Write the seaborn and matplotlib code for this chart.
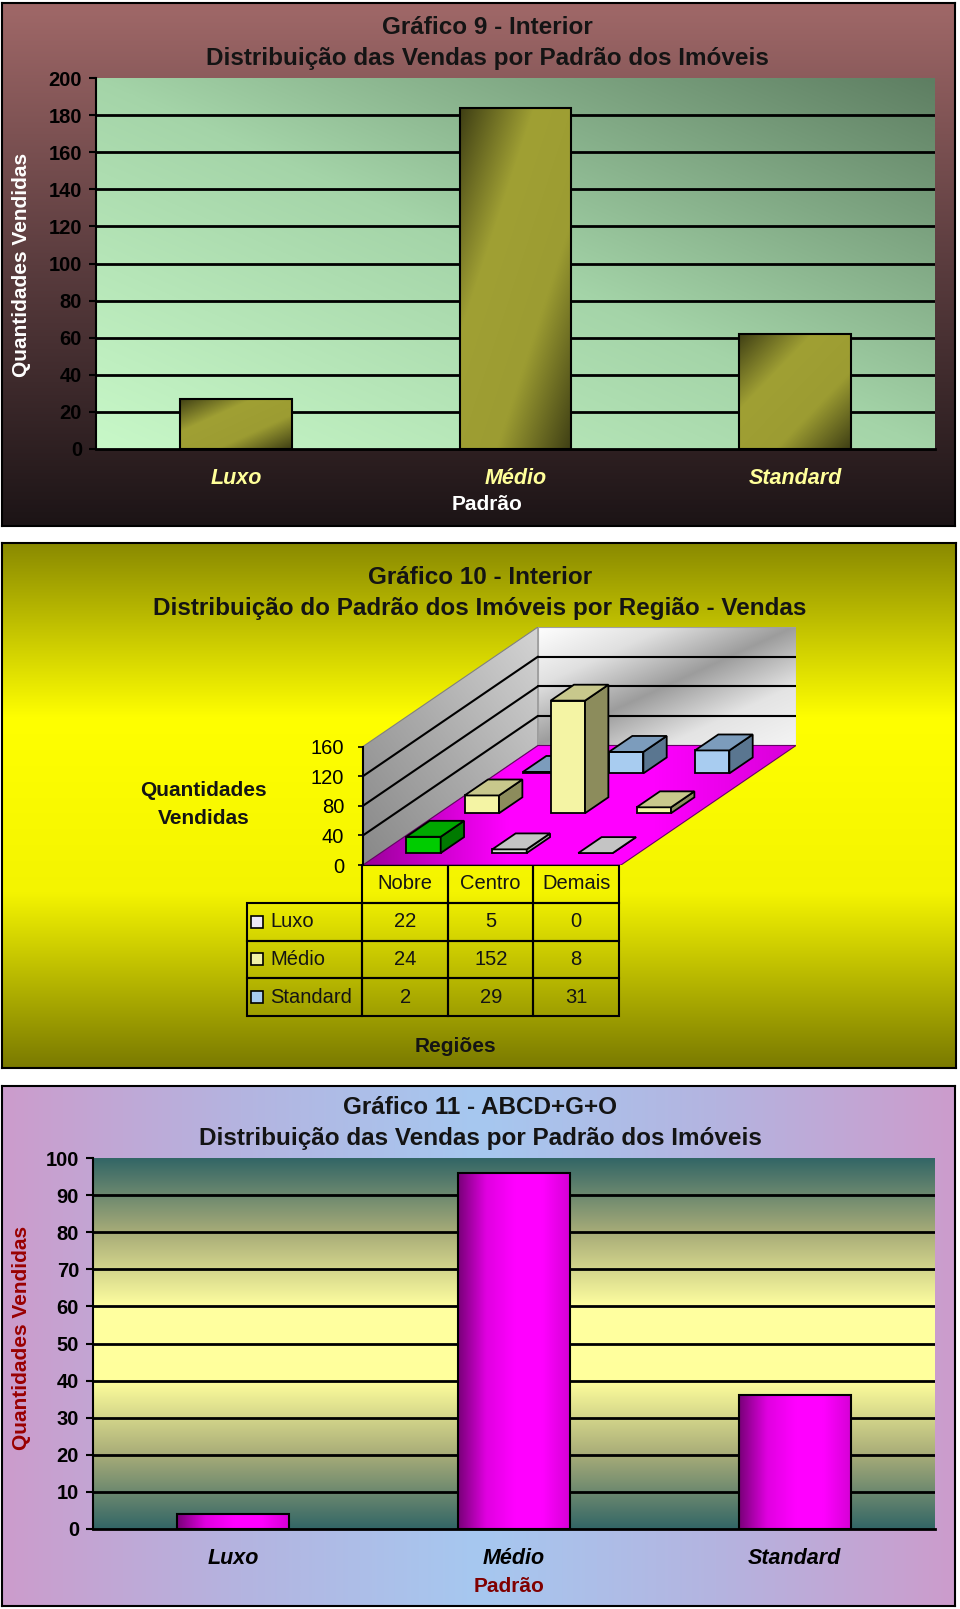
import numpy as np
import matplotlib
matplotlib.use("Agg")
import matplotlib.pyplot as plt
import seaborn as sns
from matplotlib.colors import LinearSegmentedColormap
from matplotlib.patches import Polygon, Rectangle
from matplotlib.table import Table

sns.set_theme(style="white")
plt.rcParams['font.family'] = ['Liberation Sans', 'DejaVu Sans']

# ------------------------------------------
# DADOS
# ------------------------------------------
padrao = ["Luxo", "Médio", "Standard"]
vendas_interior = [27, 184, 62]
vendas_abcd = [4, 96, 36]

regioes = ["Nobre", "Centro", "Demais"]
luxo_reg = [22, 5, 0]
medio_reg = [24, 152, 8]
standard_reg = [2, 29, 31]

# ------------------------------------------
# helpers (layout em pixels da imagem 960x1609)
# ------------------------------------------
W, H = 960, 1609
fig = plt.figure(figsize=(W / 100, H / 100), dpi=100)


def rect(x0, y0, x1, y1):
    return [x0 / W, 1 - y1 / H, (x1 - x0) / W, (y1 - y0) / H]


def ftext(x, y, s, **kw):
    kw.setdefault("ha", "center")
    kw.setdefault("va", "center")
    fig.text(x / W, 1 - y / H, s, **kw)


def gradient(kind, n=256):
    t = np.linspace(0, 1, n)
    X, Y = np.meshgrid(t, t)
    if kind == "h":
        return X
    if kind == "v":
        return Y
    if kind == "d":        # baixo-esquerda -> cima-direita
        return (X + Y) / 2
    return (X + (1 - Y)) / 2   # cima-esquerda -> baixo-direita


def cmap(colors):
    return LinearSegmentedColormap.from_list("g", colors)


def background(r, kind, colors, z=0, border=True):
    a = fig.add_axes(r, zorder=z)
    a.imshow(gradient(kind), extent=[0, 1, 0, 1], origin="lower", cmap=cmap(colors),
             aspect="auto", interpolation="bicubic")
    a.set_xticks([]); a.set_yticks([])
    for s in a.spines.values():
        s.set_visible(border)
        s.set_color("black")
        s.set_linewidth(1.5)
    return a


def fill_patch(ax, patch, extent, kind, colors, z):
    im = ax.imshow(gradient(kind), extent=extent, origin="lower", cmap=cmap(colors),
                   aspect="auto", interpolation="bicubic", zorder=z)
    im.set_clip_path(patch)


def bar_panel(ax_rect, valores, ymax, step, bar_kind, bar_colors, tick_color):
    ax = fig.add_axes(ax_rect, zorder=2)
    ax.patch.set_alpha(0)
    sns.barplot(x=padrao, y=valores, color=bar_colors[1], width=0.4, saturation=1,
                edgecolor="black", linewidth=1.5, ax=ax)
    for p in ax.patches:
        ext = [p.get_x(), p.get_x() + p.get_width(), p.get_y(), p.get_y() + p.get_height()]
        fill_patch(ax, p, ext, bar_kind, bar_colors, 2)
        p.set_facecolor("none")
        p.set_zorder(3)
    ax.set_xlim(-0.5, 2.5)
    ax.set_ylim(0, ymax)
    ax.set_yticks(np.arange(0, ymax + 1, step))
    ax.set_xticks([-0.5, 0.5, 1.5, 2.5], minor=True)
    ax.set_xticks([0, 1, 2])
    ax.set_xticklabels(padrao, fontstyle="italic", fontweight="bold", color=tick_color, fontsize=15.5)
    ax.tick_params(axis="x", which="major", length=0, pad=13.5)
    ax.tick_params(axis="x", which="minor", length=5, width=1.5, color="black", direction="out")
    ax.tick_params(axis="y", length=5, width=1.5, color="black", direction="out",
                   labelsize=14.5, pad=5, left=True)
    plt.setp(ax.get_yticklabels(), fontweight="bold", color="black")
    ax.set_xlabel(""); ax.set_ylabel("")
    ax.grid(False)
    for yv in np.arange(step, ymax, step):
        ax.axhline(yv, color="black", lw=2, zorder=1)
    for s in ["top", "right"]:
        ax.spines[s].set_visible(False)
    ax.spines["left"].set_color("black"); ax.spines["left"].set_linewidth(1.5)
    ax.spines["bottom"].set_color("black"); ax.spines["bottom"].set_linewidth(2)
    return ax


TITLE = dict(fontsize=17.5, fontweight="bold", color="#141414")

# ------------------------------------------
# GRÁFICO 9 - INTERIOR
# ------------------------------------------
background(rect(2, 3, 955, 526), "v", ["#1c1416", "#5a3c3e", "#a06868"], z=0)
a9 = rect(96, 78, 935, 449)
background(a9, "d", ["#c8f8c8", "#a4d4a8", "#5e7e62"], z=1, border=False)
bar_panel(a9, vendas_interior, 200, 20, "e",
          ["#3e3e14", "#a0a034", "#9c9c32", "#3e3e14"], "#ffff99")
ftext(487, 27, "Gráfico 9 - Interior", **TITLE)
ftext(487, 58, "Distribuição das Vendas por Padrão dos Imóveis", **TITLE)
ftext(22, 265, "Quantidades Vendidas", rotation=90, fontsize=15, fontweight="bold", color="white")
ftext(487, 505, "Padrão", fontsize=15, fontweight="bold", color="white")

# ------------------------------------------
# GRÁFICO 10 - INTERIOR (barras 3D oblíquas + tabela de dados)
# ------------------------------------------
background(rect(2, 543, 956, 1068), "v", ["#7a7a00", "#f4f400", "#ffff00", "#8a8a00"], z=0)

DX = 175 / 3 / 86              # deslocamento de uma linha de profundidade, em colunas
DZ = (119 / 3) / (118 / 160)   # idem, em unidades de venda
L3, R3, T3, B3 = 363, 796, 627, 865
ax3 = fig.add_axes(rect(L3, T3, R3, B3), zorder=2)
ax3.patch.set_alpha(0)
ax3.set_autoscale_on(False)
ax3.set_xlim(0, 3 + 3 * DX)
ax3.set_ylim(0, 160 + 3 * DZ)

# paredes e piso
left_wall = Polygon([(0, 0), (3 * DX, 3 * DZ), (3 * DX, 3 * DZ + 160), (0, 160)],
                    closed=True, fc="none", ec="#808080", lw=0.8, zorder=1.5)
back_wall = Polygon([(3 * DX, 3 * DZ), (3 + 3 * DX, 3 * DZ), (3 + 3 * DX, 3 * DZ + 160),
                     (3 * DX, 3 * DZ + 160)], closed=True, fc="none", ec="#a0a0a0", lw=0.8, zorder=1.5)
floor = Polygon([(0, 0), (3, 0), (3 + 3 * DX, 3 * DZ), (3 * DX, 3 * DZ)],
                closed=True, fc="none", ec="#660066", lw=0.8, zorder=2.5)
for p in [left_wall, back_wall, floor]:
    ax3.add_patch(p)
fill_patch(ax3, left_wall, [0, 3 * DX, 0, 3 * DZ + 160], "d", ["#888888", "#acacac", "#d4d4d4"], 1)
fill_patch(ax3, back_wall, [3 * DX, 3 + 3 * DX, 3 * DZ, 3 * DZ + 160], "e",
           ["#ffffff", "#e0e0e0", "#9c9c9c", "#e4e4e4", "#f4f4f4"], 1)
fill_patch(ax3, floor, [0, 3 + 3 * DX, 0, 3 * DZ], "h", ["#9a009a", "#ff00ff", "#ff00ff", "#d800d8"], 2)
for z in [40, 80, 120]:
    ax3.plot([0, 3 * DX], [z, 3 * DZ + z], color="black", lw=1.5, zorder=1.8)
    ax3.plot([3 * DX, 3 + 3 * DX], [3 * DZ + z, 3 * DZ + z], color="black", lw=1.5, zorder=1.8)

series3d = [
    (luxo_reg, ["#00cc00", "#d8d8d8", "#d8d8d8"], ["#007a00", "#a4a4a4", "#a4a4a4"],
     ["#00a800", "#c4c4c4", "#c4c4c4"]),
    (medio_reg, ["#f4f4a4"] * 3, ["#8c8c5c"] * 3, ["#c8c88c"] * 3),
    (standard_reg, ["#a8ccf0"] * 3, ["#5a7690"] * 3, ["#7c9cbc"] * 3),
]
ddx, ddz = 0.4 * DX, 0.4 * DZ
for r in [2, 1, 0]:
    vals, front, side, top = series3d[r]
    zb = 10 + (2 - r) * 3
    x0 = np.arange(3) + 0.3 + (r + 0.3) * DX
    y0 = (r + 0.3) * DZ
    ax3.bar(x0, vals, width=0.4, bottom=y0, align="edge", color=front,
            edgecolor="black", linewidth=1.3, zorder=zb)
    for i, v in enumerate(vals):
        xl, xr, yt = x0[i], x0[i] + 0.4, y0 + v
        ax3.add_patch(Polygon([(xr, y0), (xr + ddx, y0 + ddz), (xr + ddx, yt + ddz), (xr, yt)],
                              closed=True, fc=side[i], ec="black", lw=1.3, zorder=zb + 1))
        ax3.add_patch(Polygon([(xl, yt), (xr, yt), (xr + ddx, yt + ddz), (xl + ddx, yt + ddz)],
                              closed=True, fc=top[i], ec="black", lw=1.3, zorder=zb + 2))

ax3.set_xticks([])
ax3.set_yticks([0, 40, 80, 120, 160])
ax3.tick_params(axis="y", length=3.6, width=1.2, color="black", direction="out",
                labelsize=14.5, pad=10, left=True)
plt.setp(ax3.get_yticklabels(), color="black")
for s in ["top", "right", "bottom"]:
    ax3.spines[s].set_visible(False)
ax3.spines["left"].set_bounds(0, 160)
ax3.spines["left"].set_color("black")
ax3.spines["left"].set_linewidth(1.5)

# tabela de dados
w3, h3 = R3 - L3, B3 - T3
tb_left, tb_right, tb_bottom = 247, 619, 1016
tbl = Table(ax3, bbox=[(tb_left - L3) / w3, -(tb_bottom - B3) / h3,
                       (tb_right - tb_left) / w3, (tb_bottom - B3) / h3])
lab_w = (L3 - tb_left) / 86
for c, nome in enumerate(regioes):
    tbl.add_cell(0, c + 1, 1, 1, text=nome, loc="center", facecolor="none")
for r, (nome, vals) in enumerate(zip(padrao, [luxo_reg, medio_reg, standard_reg])):
    cell = tbl.add_cell(r + 1, 0, lab_w, 1, text=nome, loc="left", facecolor="none")
    cell.PAD = 0.2
    for c, v in enumerate(vals):
        tbl.add_cell(r + 1, c + 1, 1, 1, text=str(v), loc="center", facecolor="none")
tbl.auto_set_font_size(False)
tbl.set_fontsize(14.5)
for cell in tbl.get_celld().values():
    cell.set_edgecolor("black")
    cell.set_linewidth(1.5)
    cell.get_text().set_color("#141414")
ax3.add_table(tbl)

# chaves da legenda
key_cores = ["#ece8f6", "#f2f2a6", "#a8ccf0"]
row_h = (tb_bottom - B3) / 4
for r, cor in enumerate(key_cores):
    yc = B3 + row_h * (r + 1.5)
    ax3.add_patch(Rectangle(((251 - L3) / w3, -(yc + 6 - B3) / h3), 12 / w3, 12 / h3,
                            transform=ax3.transAxes, fc=cor, ec="black", lw=1.2, clip_on=False))

ftext(480, 577, "Gráfico 10 - Interior", **TITLE)
ftext(480, 608, "Distribuição do Padrão dos Imóveis por Região - Vendas", **TITLE)
ftext(203, 790, "Quantidades", fontsize=15, fontweight="bold", color="#141414")
ftext(204, 818, "Vendidas", fontsize=15, fontweight="bold", color="#141414")
ftext(455, 1047, "Regiões", fontsize=15, fontweight="bold", color="#141414")

# ------------------------------------------
# GRÁFICO 11 - ABCD+G+O
# ------------------------------------------
background(rect(2, 1086, 955, 1606), "h", ["#cc9ccc", "#b4b4e0", "#a6c8f0", "#b4b4e0", "#cc9ccc"], z=0)
a11 = rect(93, 1158, 935, 1529)
background(a11, "v", ["#336666", "#a8ac78", "#ffff9c", "#ffffa0", "#a8ac78", "#336666"],
           z=1, border=False)
bar_panel(a11, vendas_abcd, 100, 10, "h",
          ["#780078", "#e000e0", "#ff00ff", "#ff00ff", "#d400d4"], "black")
ftext(480, 1107, "Gráfico 11 - ABCD+G+O", **TITLE)
ftext(480, 1138, "Distribuição das Vendas por Padrão dos Imóveis", **TITLE)
ftext(22, 1338, "Quantidades Vendidas", rotation=90, fontsize=15, fontweight="bold", color="#990000")
ftext(509, 1586, "Padrão", fontsize=15, fontweight="bold", color="#800000")

fig.savefig("out.png", dpi=100)
